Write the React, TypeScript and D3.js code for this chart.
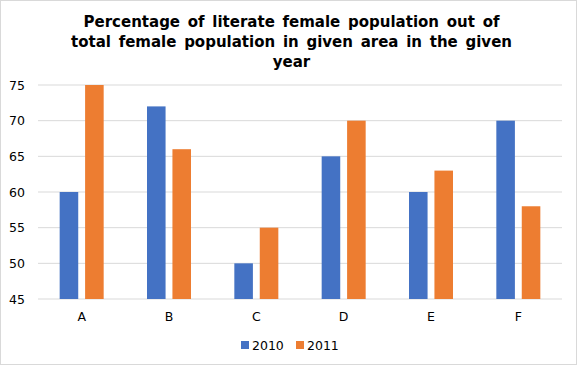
import React from 'react';
import * as d3 from 'd3';

// chart data
const areas = ['A', 'B', 'C', 'D', 'E', 'F'];
const years = ['2010', '2011'];
const values2010 = [60, 72, 50, 65, 60, 70];
const values2011 = [75, 66, 55, 70, 63, 58];
const yTicks = [45, 50, 55, 60, 65, 70, 75];
const titleLines = [
  'Percentage of literate female population out of',
  'total female population in given area in the given',
  'year',
];

const colors = ['#4472C4', '#ED7D31'];

const W = 577;
const H = 365;
const margin = { top: 85, right: 15, bottom: 66, left: 38 };

const App = () => {
  const plotW = W - margin.left - margin.right;
  const plotH = H - margin.top - margin.bottom;

  const x = d3.scaleBand().domain(areas).range([0, plotW]).paddingInner(0.5).paddingOuter(0.25);
  const xInner = d3.scaleBand().domain(years).range([0, 44]).paddingInner(0.27);
  const y = d3.scaleLinear().domain([45, 75]).range([plotH, 0]);

  const series = [values2010, values2011];
  const font = 'DejaVu Sans, Verdana, sans-serif';

  return (
    <svg
      width={W}
      height={H}
      style={{ position: 'absolute', left: 0, top: 0, background: '#fff' }}
    >
      <rect x={0.5} y={0.5} width={W - 1} height={H - 1} fill="#fff" stroke="#d9d9d9" />

      {/* title */}
      {titleLines.map((t, i) => (
        <text
          key={i}
          x={W / 2 + 3}
          y={27 + i * 20}
          textAnchor="middle"
          fontFamily={font}
          fontWeight="bold"
          fontSize={15}
          wordSpacing={2.5}
          fill="#000"
        >
          {t}
        </text>
      ))}

      <g transform={`translate(${margin.left},${margin.top})`}>
        {/* gridlines */}
        {yTicks.map((t) => (
          <line
            key={t}
            x1={0}
            x2={plotW}
            y1={y(t)}
            y2={y(t)}
            stroke="#d9d9d9"
            strokeWidth={1}
          />
        ))}

        {/* y labels */}
        {yTicks.map((t) => (
          <text
            key={'l' + t}
            x={-13}
            y={y(t) + 4.5}
            textAnchor="end"
            fontFamily={font}
            fontSize={12.5}
            fill="#000"
          >
            {t}
          </text>
        ))}

        {/* bars */}
        {areas.map((a, i) => {
          const cx = (x(a) as number) + x.bandwidth() / 2 - 22;
          return (
            <g key={a} transform={`translate(${cx},0)`}>
              {years.map((yr, j) => (
                <rect
                  key={yr}
                  x={xInner(yr)}
                  y={y(series[j][i])}
                  width={xInner.bandwidth()}
                  height={plotH - y(series[j][i])}
                  fill={colors[j]}
                />
              ))}
            </g>
          );
        })}

        {/* x labels */}
        {areas.map((a) => (
          <text
            key={'x' + a}
            x={(x(a) as number) + x.bandwidth() / 2}
            y={plotH + 22}
            textAnchor="middle"
            fontFamily={font}
            fontSize={12.5}
            fill="#000"
          >
            {a}
          </text>
        ))}
      </g>

      {/* legend */}
      {years.map((yr, j) => {
        const lx = 241 + j * 55;
        return (
          <g key={yr}>
            <rect x={lx} y={341} width={8} height={8} fill={colors[j]} />
            <text x={lx + 11} y={349.5} fontFamily={font} fontSize={12.5} fill="#000">
              {yr}
            </text>
          </g>
        );
      })}
    </svg>
  );
};

export default App;
